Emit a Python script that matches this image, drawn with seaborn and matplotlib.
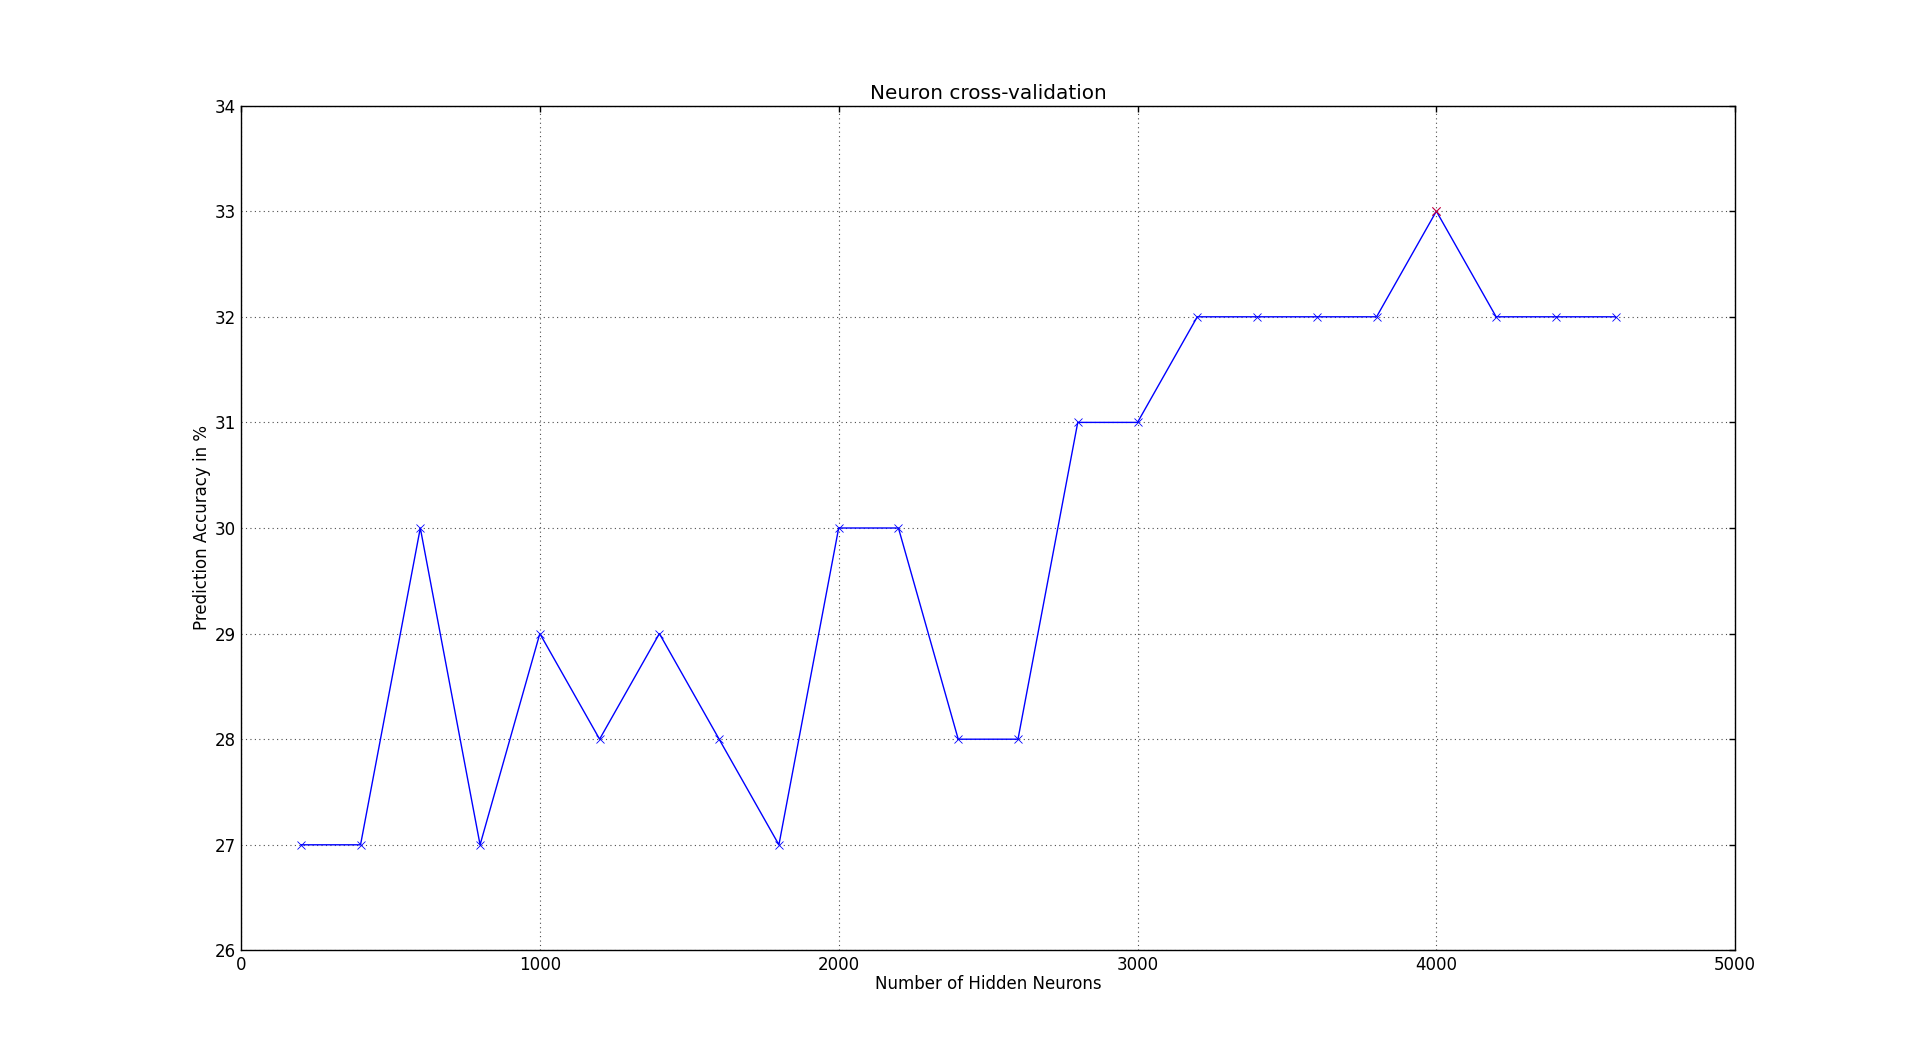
import numpy as np
import pandas as pd
import seaborn as sns
import matplotlib.pyplot as plt

# Data
neurons = [200, 400, 600, 800, 1000, 1200, 1400, 1600, 1800, 2000, 2200, 2400,
           2600, 2800, 3000, 3200, 3400, 3600, 3800, 4000, 4200, 4400, 4600]
accuracy = [27, 27, 30, 27, 29, 28, 29, 28, 27, 30, 30, 28,
            28, 31, 31, 32, 32, 32, 32, 33, 32, 32, 32]

data = pd.DataFrame({'neurons': neurons, 'accuracy': accuracy})
best = data.loc[[data['accuracy'].idxmax()]]

sns.set_style('white')
plt.rcParams['font.family'] = ['DejaVu Sans']
plt.rcParams['text.color'] = 'black'
plt.rcParams['axes.labelcolor'] = 'black'
plt.rcParams['xtick.direction'] = 'in'
plt.rcParams['ytick.direction'] = 'in'
plt.rcParams['xtick.top'] = True
plt.rcParams['ytick.right'] = True

fig = plt.figure(figsize=(19.28, 10.56), dpi=100)
ax = fig.add_subplot(111)
fig.subplots_adjust(left=0.125, right=0.9, bottom=0.1, top=0.9)

sns.lineplot(data=data, x='neurons', y='accuracy', color='blue', marker='x',
             markersize=6, markeredgecolor='blue', markeredgewidth=0.6, linewidth=1, ax=ax)
sns.scatterplot(data=best, x='neurons', y='accuracy', color='red', marker='x',
                s=36, linewidth=0.6, ax=ax, zorder=3)

ax.set_xlim(0, 5000)
ax.set_ylim(26, 34)
ax.set_xticks(range(0, 5001, 1000))
ax.set_yticks(range(26, 35))
ax.grid(True, color='0.3', linestyle=(0, (1, 3)), linewidth=0.8)
ax.tick_params(labelsize=12, length=4, width=1, colors='black', pad=4)
for s in ax.spines.values():
    s.set_color('black')
    s.set_linewidth(1)

ax.set_title('Neuron cross-validation', fontsize=14.4, color='black', pad=5)
ax.set_xlabel('Number of Hidden Neurons', fontsize=12, labelpad=1)
ax.set_ylabel('Prediction Accuracy in %', fontsize=12, labelpad=2)

plt.savefig('out.png', dpi=100)
